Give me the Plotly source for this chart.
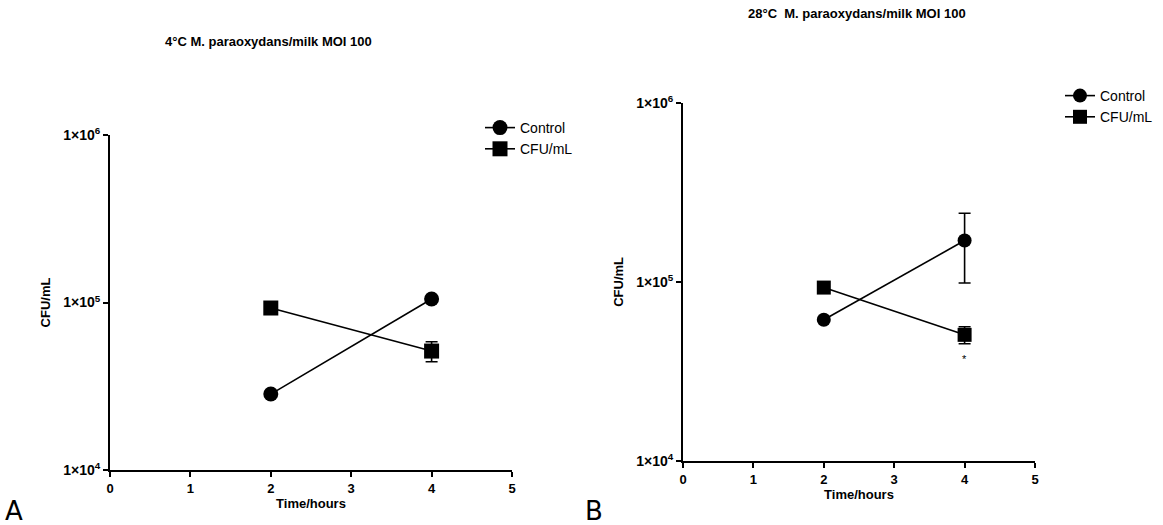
import plotly.graph_objects as go

time_pts = [2, 4]

# Panel A: 4°C
a_control = [28400, 105000]
a_control_err = [0, 0]
a_cfu = [92700, 51300]
a_cfu_err = [0, 7000]

# Panel B: 28°C
b_control = [61400, 170000]
b_control_err = [0, 71500]
b_cfu = [92900, 50600]
b_cfu_err = [0, 5500]

x_ticks = [0, 1, 2, 3, 4, 5]
y_tickvals = [1e4, 1e5, 1e6]
y_ticktext = ["1×10<sup>4</sup>", "1×10<sup>5</sup>", "1×10<sup>6</sup>"]

W, H = 1163, 525
FONT = "Liberation Sans, Arial, sans-serif"

fig = go.Figure()

def add_series(xa, ya, vals, errs, name, symbol, size, legend):
    fig.add_trace(go.Scatter(
        x=time_pts, y=vals, mode="lines+markers", name=name,
        xaxis=xa, yaxis=ya, legend=legend,
        line=dict(color="black", width=1.6),
        marker=dict(symbol=symbol, size=size, color="black"),
        error_y=dict(type="data", array=errs, visible=True, color="black", thickness=1.6, width=6),
    ))

add_series("x", "y", a_control, a_control_err, "Control", "circle", 15, "legend")
add_series("x", "y", a_cfu, a_cfu_err, "CFU/mL", "square", 15, "legend")
add_series("x2", "y2", b_control, b_control_err, "Control", "circle", 14, "legend2")
add_series("x2", "y2", b_cfu, b_cfu_err, "CFU/mL", "square", 14, "legend2")

def px(x): return x / W
def py(y): return (H - y) / H

axis_common = dict(showline=True, linecolor="black", linewidth=2, ticks="outside",
                   ticklen=5, tickwidth=2, tickcolor="black", showgrid=False, zeroline=False,
                   automargin=False,
                   title_font=dict(family=FONT, size=13, color="black", weight="bold"))
xfont = dict(family=FONT, size=13, color="black", weight="bold")
yfont = dict(family=FONT, size=14, color="black", weight="bold")

fig.update_layout(
    template="none",
    width=W, height=H, autosize=False,
    margin=dict(l=0, r=0, t=0, b=0, pad=0),
    paper_bgcolor="white", plot_bgcolor="white",
    xaxis=dict(domain=[px(110), px(512)], range=[0, 5], tickvals=x_ticks, anchor="y", tickfont=xfont,
               title=dict(text="Time/hours", standoff=4), **axis_common),
    yaxis=dict(domain=[py(470), py(135)], type="log", range=[4, 6], tickvals=y_tickvals,
               ticktext=y_ticktext, anchor="x", tickfont=yfont,
               title=dict(text="CFU/mL", standoff=10), **axis_common),
    xaxis2=dict(domain=[px(683), px(1035)], range=[0, 5], tickvals=x_ticks, anchor="y2", tickfont=xfont,
                title=dict(text="Time/hours", standoff=4), **axis_common),
    yaxis2=dict(domain=[py(461), py(102.7)], type="log", range=[4, 6], tickvals=y_tickvals,
                ticktext=y_ticktext, anchor="x2", tickfont=yfont,
                title=dict(text="CFU/mL", standoff=10), **axis_common),
    legend=dict(x=px(480), y=py(112), xanchor="left", yanchor="top",
                font=dict(family=FONT, size=14, color="black"), bgcolor="rgba(0,0,0,0)",
                tracegroupgap=0, itemwidth=30),
    legend2=dict(x=px(1060), y=py(80), xanchor="left", yanchor="top",
                 font=dict(family=FONT, size=14, color="black"), bgcolor="rgba(0,0,0,0)",
                 tracegroupgap=0, itemwidth=30),
    showlegend=True,
)

fig.add_annotation(text="4°C M. paraoxydans/milk MOI 100", x=px(268), y=py(42), xref="paper", yref="paper",
                   xanchor="center", yanchor="middle",
                   showarrow=False, font=dict(family=FONT, size=13, color="black", weight="bold"))
fig.add_annotation(text="28°C  M. paraoxydans/milk MOI 100", x=px(857), y=py(14), xref="paper", yref="paper",
                   xanchor="center", yanchor="middle",
                   showarrow=False, font=dict(family=FONT, size=13, color="black", weight="bold"))
fig.add_annotation(text="*", x=4, y=4.57, xref="x2", yref="y2", showarrow=False,
                   font=dict(family=FONT, size=11, color="black"))
fig.add_annotation(text="A", x=px(3), y=py(511), xref="paper", yref="paper", xanchor="left", yanchor="middle",
                   showarrow=False, font=dict(family="DejaVu Sans", size=26, color="black"))
fig.add_annotation(text="B", x=px(583), y=py(511), xref="paper", yref="paper", xanchor="left", yanchor="middle",
                   showarrow=False, font=dict(family="DejaVu Sans", size=26, color="black"))

fig.write_html("out.html", config={"displayModeBar": False},
               post_script="document.body.style.margin='0';")
